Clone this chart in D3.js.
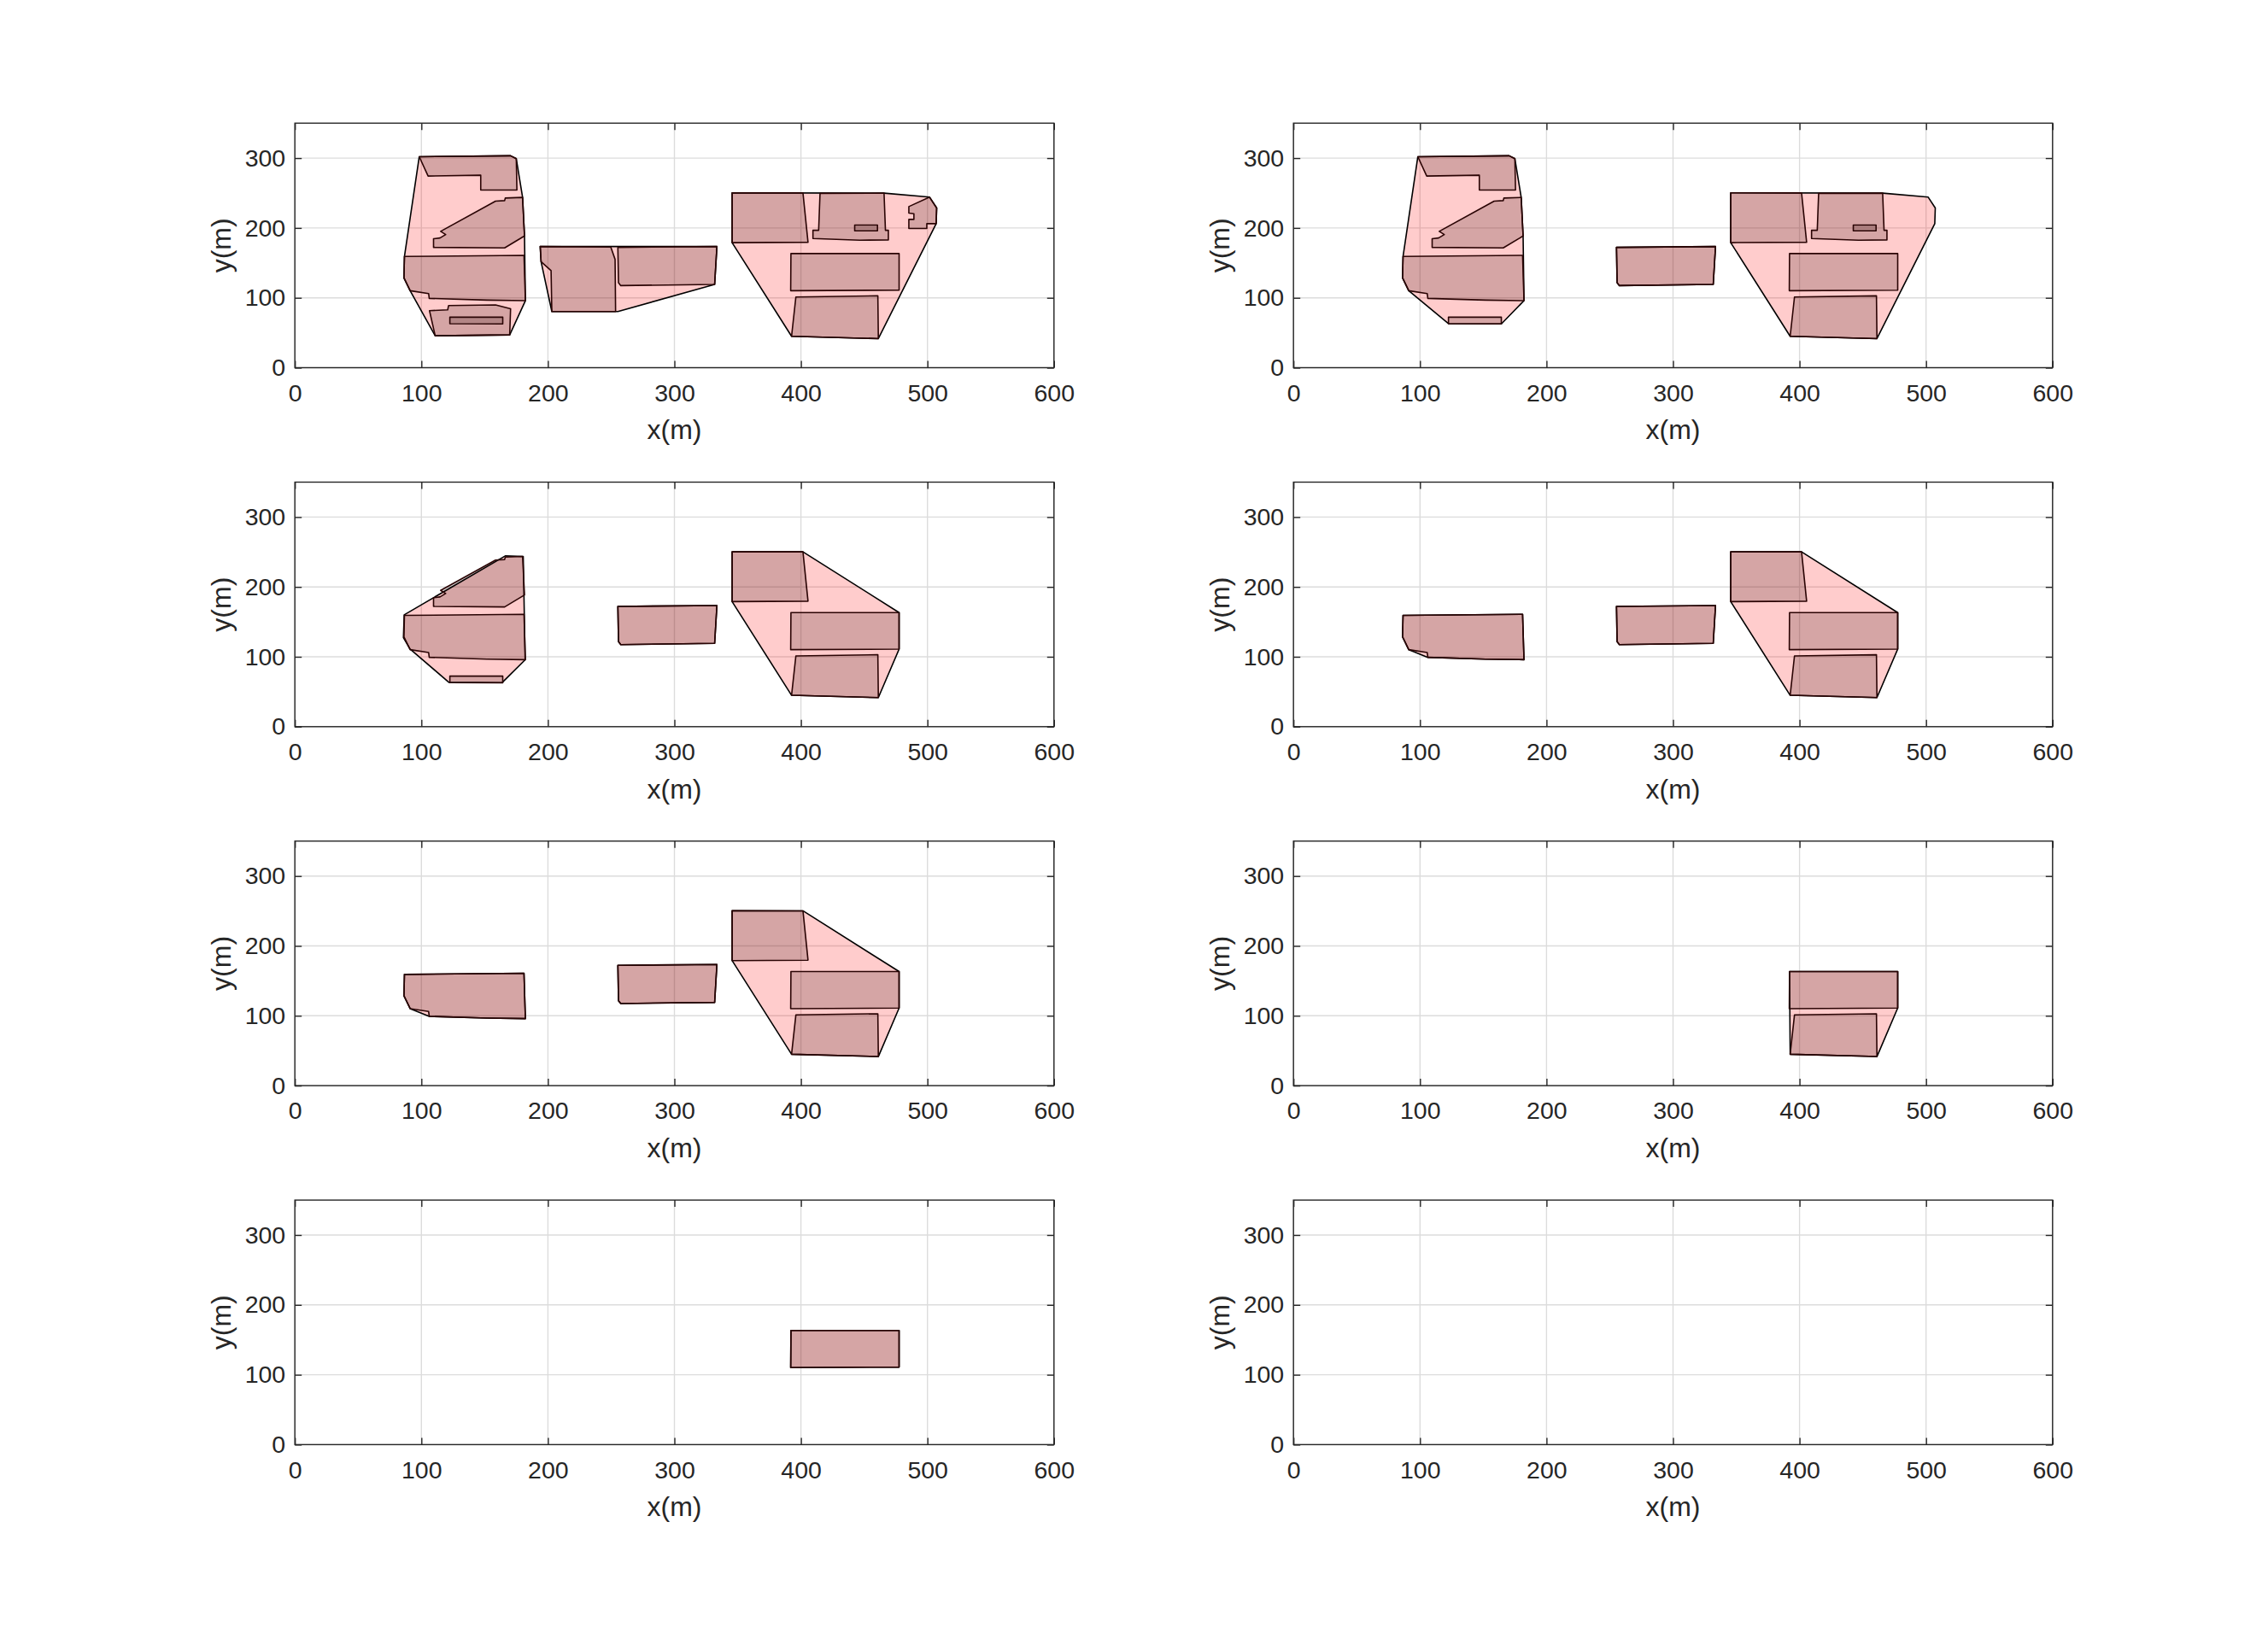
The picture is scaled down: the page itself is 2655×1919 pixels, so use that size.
<!DOCTYPE html>
<html>
<head>
<meta charset="utf-8">
<script src="https://cdn.jsdelivr.net/npm/d3@7"></script>
<style>
  body { margin: 0; background: #fff; }
  svg text { font-family: "Liberation Sans", Arial, Helvetica, sans-serif; fill: #262626; }
</style>
</head>
<body>
<svg id="fig" width="2655" height="1919"></svg>
<script>
// axis ticks
const xTicks = [0, 100, 200, 300, 400, 500, 600];
const yTicks = [0, 100, 200, 300];
const xDomain = [0, 600];
const yDomain = [0, 350];

// buildings (x, y in metres)
const bldB1 = [[98.3,302.0],[170.5,303.3],[175.0,299.2],[175.5,254.3],[146.9,254.3],[146.9,275.5],[105.3,274.3]];
const bldB2 = [[109.6,172.2],[109.6,184.5],[114.7,185.7],[119.2,190.6],[115.2,195.1],[158.6,238.4],[165.8,239.2],[166.3,242.8],[180.0,243.7],[181.5,188.5],[165.8,171.4]];
const bldB3 = [[86.6,159.2],[181.1,160.8],[182.2,95.9],[151.9,96.7],[106.2,99.2],[105.7,106.1],[91.1,110.2],[86.2,128.6]];
const bldB4 = [[106.4,81.6],[120.8,82.8],[121.5,89.0],[158.6,89.8],[170.5,84.4],[169.8,46.9],[110.9,45.7]];
const bldB5 = [[122.5,72.5],[164.3,72.3],[164.3,62.7],[122.5,63.0]];
const bldC1 = [[193.9,173.4],[249.7,172.6],[253.1,155.1],[253.5,80.4],[203.1,80.4],[202.5,138.8],[194.6,151.8]];
const bldC2 = [[255.3,172.2],[333.6,173.4],[331.8,119.2],[257.6,117.5],[255.8,121.6]];
const bldD1 = [[345.6,250.3],[401.6,250.2],[405.6,179.6],[345.6,179.0]];
const bldD2 = [[415.1,249.5],[465.7,249.8],[466.8,196.7],[469.1,196.7],[469.1,182.9],[446.6,182.5],[409.5,184.9],[409.5,196.7],[414.0,196.7]];
const bldD3 = [[442.5,204.1],[460.5,204.1],[460.5,195.9],[442.5,195.9]];
const bldD4 = [[485.3,230.6],[501.7,244.1],[507.3,228.6],[506.9,206.1],[499.5,206.1],[499.5,199.2],[485.3,199.2],[485.3,212.2],[489.3,212.2],[489.3,220.4],[485.3,221.2]];
const bldD5 = [[392.1,163.3],[477.6,163.3],[477.6,111.0],[391.9,110.2]];
const bldD6 = [[396.0,101.2],[460.8,102.9],[461.2,41.6],[392.6,44.9]];

// blocks (lots) around the buildings
const blkL1 = [[98.3,302.0],[170.5,303.3],[175.0,299.2],[180.0,243.7],[181.5,188.5],[182.2,95.9],[169.8,46.9],[110.9,45.7],[91.1,110.2],[86.2,128.6],[86.6,159.2]];
const blkL2 = [[98.3,302.0],[170.5,303.3],[175.0,299.2],[180.0,243.7],[181.5,188.5],[182.2,95.9],[164.3,62.7],[122.5,63.0],[91.1,110.2],[86.2,128.6],[86.6,159.2]];
const blkL3 = [[166.3,244.4],[180.5,243.6],[182.0,95.7],[163.9,63.1],[121.7,63.5],[91.0,111.2],[85.8,127.5],[86.4,160.1]];
const blkL4 = [[86.6,159.2],[181.1,160.8],[182.2,95.9],[151.9,96.7],[106.2,99.2],[91.1,110.2],[86.2,128.6]];
const blkM1 = [[193.9,173.4],[333.6,173.4],[331.8,119.2],[255.3,80.4],[203.1,80.4],[194.6,151.8]];
const blkR1 = [[345.6,250.3],[465.7,249.8],[501.7,244.1],[507.3,228.6],[506.9,206.1],[461.2,41.6],[392.6,44.9],[345.6,179.0]];
const blkR3 = [[345.6,250.3],[401.6,250.2],[477.6,163.3],[477.6,111.0],[461.2,41.6],[392.6,44.9],[345.6,179.0]];
const blkR6 = [[392.1,163.3],[477.6,163.3],[477.6,111.0],[461.2,41.6],[392.6,44.9]];

// what each subplot shows
const panelBlocks = [
  [blkL1, blkM1, blkR1],
  [blkL2, bldC2, blkR1],
  [blkL3, bldC2, blkR3],
  [blkL4, bldC2, blkR3],
  [blkL4, bldC2, blkR3],
  [blkR6],
  [bldD5],
  []
];
const panelBuildings = [
  [bldB1, bldB2, bldB3, bldB4, bldB5, bldC1, bldC2, bldD1, bldD2, bldD3, bldD4, bldD5, bldD6],
  [bldB1, bldB2, bldB3, bldB5, bldC2, bldD1, bldD2, bldD3, bldD5, bldD6],
  [bldB2, bldB3, bldB5, bldC2, bldD1, bldD5, bldD6],
  [bldB3, bldC2, bldD1, bldD5, bldD6],
  [bldB3, bldC2, bldD1, bldD5, bldD6],
  [bldD5, bldD6],
  [bldD5],
  []
];

const svg = d3.select('#fig');
svg.append('rect').attr('width', 2655).attr('height', 1919).attr('fill', '#fff');

const colLeft = [345.2, 1514.2];
const axW = 888.6, axH = 286.3;
const rowTop = 144.2, rowStep = 420.3;

const x = d3.scaleLinear().domain(xDomain).range([0, axW]);
const y = d3.scaleLinear().domain(yDomain).range([axH, 0]);
const line = d3.line().x(d => x(d[0])).y(d => y(d[1])).curve(d3.curveLinearClosed);

panelBuildings.forEach(function(blds, i) {
  const g = svg.append('g')
    .attr('transform', 'translate(' + colLeft[i % 2] + ',' + (rowTop + rowStep * Math.floor(i / 2)) + ')');

  // grid
  g.append('g').selectAll('line').data(xTicks).join('line')
    .attr('x1', d => x(d)).attr('x2', d => x(d)).attr('y1', 0).attr('y2', axH)
    .attr('stroke', '#dcdcdc').attr('stroke-width', 1.4);
  g.append('g').selectAll('line').data(yTicks).join('line')
    .attr('x1', 0).attr('x2', axW).attr('y1', d => y(d)).attr('y2', d => y(d))
    .attr('stroke', '#dcdcdc').attr('stroke-width', 1.4);

  // blocks then buildings
  g.append('g').selectAll('path').data(panelBlocks[i]).join('path')
    .attr('d', line)
    .attr('fill', 'rgb(255,0,0)').attr('fill-opacity', 0.2)
    .attr('stroke', '#000').attr('stroke-width', 1.6).attr('stroke-linejoin', 'round');
  g.append('g').selectAll('path').data(blds).join('path')
    .attr('d', line)
    .attr('fill', 'rgb(30,0,0)').attr('fill-opacity', 0.19)
    .attr('stroke', '#2a0404').attr('stroke-width', 1.6).attr('stroke-linejoin', 'round');

  // axes, ticks pointing inward
  const ax = g.append('g').attr('transform', 'translate(0,' + axH + ')')
    .call(d3.axisBottom(x).tickValues(xTicks).tickSizeInner(-8).tickSizeOuter(0).tickPadding(19));
  const ay = g.append('g')
    .call(d3.axisLeft(y).tickValues(yTicks).tickSizeInner(-8).tickSizeOuter(0).tickPadding(11));
  const at = g.append('g')
    .call(d3.axisTop(x).tickValues(xTicks).tickSizeInner(-8).tickSizeOuter(0).tickFormat(''));
  const ar = g.append('g').attr('transform', 'translate(' + axW + ',0)')
    .call(d3.axisRight(y).tickValues(yTicks).tickSizeInner(-8).tickSizeOuter(0).tickFormat(''));
  [ax, ay, at, ar].forEach(function(a) {
    a.select('.domain').remove();
    a.selectAll('line').attr('stroke', '#262626').attr('stroke-width', 1.4);
    a.selectAll('text').attr('font-size', 28.5).attr('fill', '#262626')
      .style('font-family', '"Liberation Sans", Arial, sans-serif');
  });

  g.append('rect').attr('width', axW).attr('height', axH)
    .attr('fill', 'none').attr('stroke', '#262626').attr('stroke-width', 1.4);

  g.append('text').attr('x', axW / 2).attr('y', axH + 84)
    .attr('text-anchor', 'middle').attr('font-size', 32).text('x(m)');
  g.append('text')
    .attr('transform', 'translate(' + (-75) + ',' + (axH / 2) + ') rotate(-90)')
    .attr('text-anchor', 'middle').attr('font-size', 32).text('y(m)');
});
</script>
</body>
</html>
